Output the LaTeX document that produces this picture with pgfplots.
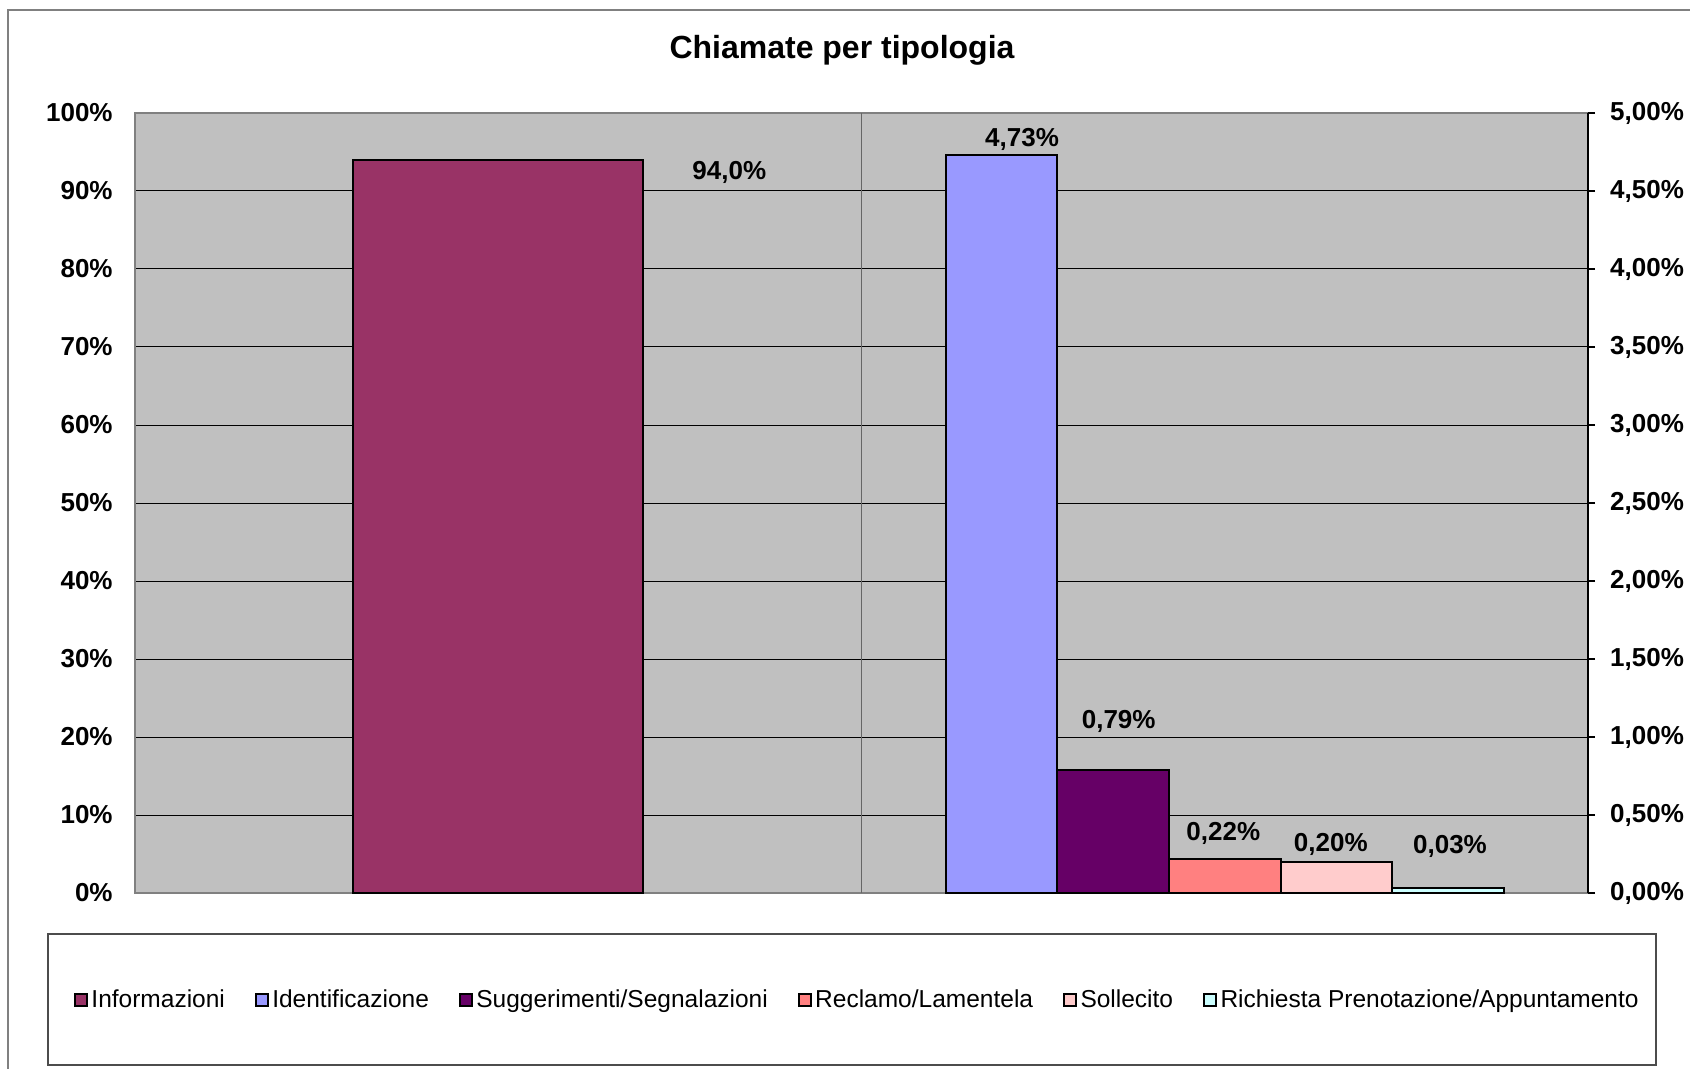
\documentclass[border=0pt]{standalone}
\usepackage{pgfplots}
\pgfplotsset{compat=1.18}
\usepackage{fontspec}
\setmainfont{Liberation Sans}
\definecolor{cInfo}{HTML}{993366}
\definecolor{cIdent}{HTML}{9999FF}
\definecolor{cSugg}{HTML}{660066}
\definecolor{cRecl}{HTML}{FF8080}
\definecolor{cSoll}{HTML}{FFCCCC}
\definecolor{cRich}{HTML}{CCFFFF}
\definecolor{plotbg}{HTML}{C0C0C0}
\definecolor{bordergray}{HTML}{808080}
\pgfplotsset{
  leg/.style={legend image code/.code={\draw[##1, line width=0.9pt] (0pt,-3pt) rectangle (6pt,3pt);}},
}
\newcommand{\tickfont}{\fontsize{13}{15}\selectfont\bfseries}
\begin{document}
\begin{tikzpicture}
% outer frame and title
\draw[bordergray, line width=1pt] (4pt,-5pt) rectangle (860pt,-545pt);
\node[font=\fontsize{16}{18}\selectfont\bfseries, anchor=base] at (421pt,-29.2pt) {Chiamate per tipologia};
% legend frame
\draw[black!70, line width=0.75pt, fill=white] (24pt,-467pt) rectangle (828pt,-532.5pt);

\begin{axis}[
  at={(67.5pt,-56.5pt)}, anchor=north west,
  scale only axis, width=726.5pt, height=390pt,
  xmin=-0.5, xmax=1.5, ymin=0, ymax=100,
  axis background/.style={fill=plotbg},
  axis line style={draw=bordergray, line width=1pt},
  xtick=\empty,
  extra x ticks={0.5}, extra x tick labels={},
  extra x tick style={grid=major, major grid style={draw=black!60, line width=0.75pt}, major tick length=0pt},
  ytick={0,10,20,30,40,50,60,70,80,90,100},
  yticklabels={0\%,10\%,20\%,30\%,40\%,50\%,60\%,70\%,80\%,90\%,100\%},
  ymajorgrids, major grid style={draw=black, line width=0.5pt},
  major tick length=0pt,
  yticklabel style={font=\tickfont, inner sep=0pt, xshift=-11pt},
]
\addplot[ybar, bar width=145pt, fill=cInfo, draw=black, line width=1pt] coordinates {(0,94.0)};
\node[font=\tickfont] at (axis cs:0.318,92.4) {94,0\%};
\end{axis}

\begin{axis}[
  at={(67.5pt,-56.5pt)}, anchor=north west,
  scale only axis, width=726.5pt, height=390pt,
  xmin=-0.5, xmax=1.5, ymin=0, ymax=5,
  axis x line=none, axis y line*=right,
  axis line style={draw=black, line width=1pt, -},
  ytick={0,0.5,1,1.5,2,2.5,3,3.5,4,4.5,5},
  yticklabels={{0,00\%},{0,50\%},{1,00\%},{1,50\%},{2,00\%},{2,50\%},{3,00\%},{3,50\%},{4,00\%},{4,50\%},{5,00\%}},
  tick align=outside, major tick length=3.5pt,
  tick style={draw=black, line width=0.75pt},
  yticklabel style={font=\tickfont, inner sep=0pt, anchor=west, xshift=7.4pt},
  legend columns=-1,
  legend style={at={(0.4977,-0.137)}, anchor=center, draw=none, fill=none,
    font=\fontsize{12.25}{14}\selectfont,
    /tikz/every even column/.append style={column sep=13.3pt},
    nodes={inner xsep=1.75pt, inner ysep=1pt}},
]
\addlegendimage{leg, fill=cInfo, draw=black}
\addlegendentry{Informazioni}
\addplot[ybar, bar width=55.8pt, fill=cIdent, draw=black, line width=1pt, leg] coordinates {(0.6928,4.73)};
\addlegendentry{Identificazione}
\addplot[ybar, bar width=55.8pt, fill=cSugg, draw=black, line width=1pt, leg] coordinates {(0.8464,0.79)};
\addlegendentry{Suggerimenti/Segnalazioni}
\addplot[ybar, bar width=55.8pt, fill=cRecl, draw=black, line width=1pt, leg] coordinates {(1.0,0.22)};
\addlegendentry{Reclamo/Lamentela}
\addplot[ybar, bar width=55.8pt, fill=cSoll, draw=black, line width=1pt, leg] coordinates {(1.1536,0.20)};
\addlegendentry{Sollecito}
\addplot[ybar, bar width=55.8pt, fill=cRich, draw=black, line width=1pt, leg] coordinates {(1.3072,0.03)};
\addlegendentry{Richiesta Prenotazione/Appuntamento}
\node[font=\tickfont] at (axis cs:0.721,4.833) {4,73\%};
\node[font=\tickfont] at (axis cs:0.854,1.101) {0,79\%};
\node[font=\tickfont] at (axis cs:0.998,0.385) {0,22\%};
\node[font=\tickfont] at (axis cs:1.146,0.312) {0,20\%};
\node[font=\tickfont] at (axis cs:1.310,0.300) {0,03\%};
\end{axis}
\pgfresetboundingbox
\useasboundingbox (0pt,0pt) rectangle (845pt,-534.5pt);
\end{tikzpicture}
\end{document}
